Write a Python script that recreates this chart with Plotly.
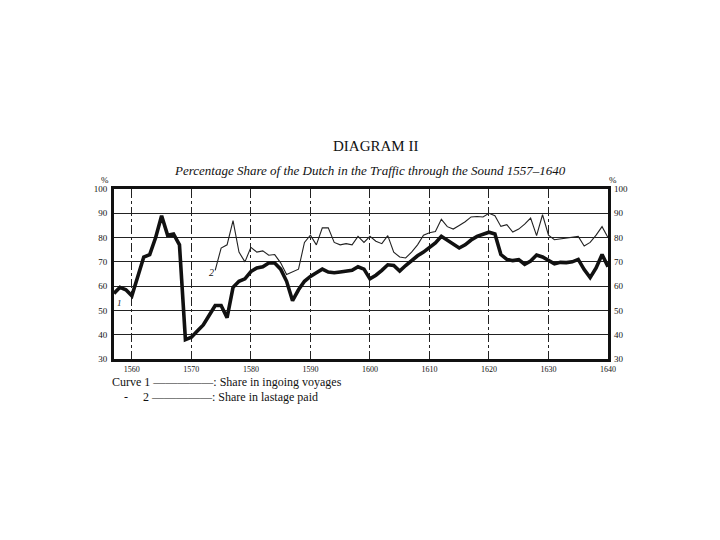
import plotly.graph_objects as go

# Curve 2 (thick): share in lastage paid
years_lastage = list(range(1557, 1641))
share_lastage = [57, 59.5, 58.5, 56, 64, 72, 73, 80, 89, 81,
                 81.5, 77, 38, 39, 41.5, 44, 48, 52, 52, 47,
                 59.5, 62, 63, 66, 67.5, 68, 69.5, 69.5, 67, 62,
                 54, 58.5, 62, 64, 65.5, 67, 65.8, 65.5, 65.8, 66.2,
                 66.5, 68, 67, 63, 64.5, 66.5, 68.8, 68.5, 66.2, 68.5,
                 70.5, 72.5, 74, 76, 77.8, 80.5, 79, 77.5, 75.7, 77,
                 79, 80.5, 81.5, 82.2, 81.5, 73, 71, 70.5, 70.9, 69,
                 70.3, 72.8, 72, 70.8, 69.2, 69.8, 69.7, 70, 71, 66.8,
                 63.5, 67.5, 73, 68]

# Curve 1 (thin): share in ingoing voyages
years_voyages = list(range(1574, 1641))
share_voyages = [66.5, 75.7, 77, 87, 74, 70, 76, 74, 74.5, 72.7,
                 73, 69.6, 64.8, 66, 67, 78, 81, 77, 84, 84,
                 78, 77, 77.5, 77, 80.5, 78, 80.5, 78.5, 77.5, 80.8,
                 74, 72, 71.6, 74, 77, 81, 82, 82.5, 87.5, 84.5,
                 83.5, 85, 86.5, 88.5, 88.7, 88.5, 90, 89, 84.6, 85.3,
                 82.3, 83.5, 85.5, 88, 80.8, 89.4, 81, 79.1, 79.5, 79.8,
                 80, 80.5, 76.5, 78, 81, 84.5, 80]

x_ticks = [1560, 1570, 1580, 1590, 1600, 1610, 1620, 1630, 1640]
y_ticks = [30, 40, 50, 60, 70, 80, 90, 100]

serif = "Liberation Serif, DejaVu Serif, serif"

fig = go.Figure()
fig.add_trace(go.Scatter(x=years_voyages, y=share_voyages, mode="lines",
                         line=dict(color="#222", width=1.1), showlegend=False))
fig.add_trace(go.Scatter(x=years_lastage, y=share_lastage, mode="lines",
                         line=dict(color="#111", width=3.6), showlegend=False))
# invisible trace to show right-hand axis
fig.add_trace(go.Scatter(x=[1600], y=[50], yaxis="y2", mode="markers",
                         marker=dict(opacity=0), showlegend=False, hoverinfo="skip"))

fig.update_layout(
    width=720, height=540,
    paper_bgcolor="white", plot_bgcolor="white",
    margin=dict(l=106, r=120, t=181, b=189),
    font=dict(family=serif, color="#111"),
    xaxis=dict(range=[1557, 1640], tickvals=x_ticks, ticktext=[str(v) for v in x_ticks],
               showgrid=True, gridcolor="#222", gridwidth=1, griddash="dashdot",
               showline=True, linecolor="#111", linewidth=3, mirror=True,
               ticks="", tickfont=dict(size=8, family=serif), zeroline=False,
               ticklabelstandoff=0),
    yaxis=dict(range=[30, 100], tickvals=y_ticks, ticktext=[str(v) for v in y_ticks],
               showgrid=True, gridcolor="#222", gridwidth=1,
               showline=True, linecolor="#111", linewidth=3, mirror=True,
               ticks="", tickfont=dict(size=9, family=serif), zeroline=False,
               ticklabelstandoff=2),
    yaxis2=dict(range=[30, 100], tickvals=y_ticks, ticktext=[str(v) for v in y_ticks],
                overlaying="y", side="right", showgrid=False, showline=False,
                ticks="", tickfont=dict(size=9, family=serif), zeroline=False,
                ticklabelstandoff=5),
    annotations=[
        dict(text="DIAGRAM II", x=0.505, y=127, xref="paper", yref="paper", showarrow=False,
             font=dict(size=15, family=serif)),
        dict(text="<i>Percentage Share of the Dutch in the Traffic through the Sound 1557–1640</i>",
             x=0.5, y=0, xref="paper", yref="paper", showarrow=False,
             font=dict(size=13, family=serif)),
        dict(text="Curve 1 —————: Share in ingoing voyages", x=0, y=0, xref="paper", yref="paper",
             xanchor="left", showarrow=False, font=dict(size=12, family=serif)),
        dict(text="-     2 —————: Share in lastage paid", x=0, y=0, xref="paper", yref="paper",
             xanchor="left", showarrow=False, font=dict(size=12, family=serif)),
        dict(text="%", x=0, y=0, xref="paper", yref="paper", showarrow=False,
             font=dict(size=9, family=serif)),
        dict(text="%", x=0, y=0, xref="paper", yref="paper", showarrow=False,
             font=dict(size=9, family=serif)),
        dict(text="<i>1</i>", x=1558, y=53, xref="x", yref="y", showarrow=False,
             font=dict(size=9, family=serif)),
        dict(text="<i>2</i>", x=1573.3, y=65.5, xref="x", yref="y", showarrow=False,
             font=dict(size=10, family=serif)),
    ],
)

# place header/footer annotations in pixel-equivalent paper coords
plot_w = 720 - 106 - 120
plot_h = 540 - 181 - 189
def px(xp):
    return (xp - 106) / plot_w
def py(yp):
    return (540 - 189 - yp) / plot_h

ann = list(fig.layout.annotations)
ann[0].update(x=px(367), y=py(128))
ann[1].update(x=px(362), y=py(153))
ann[2].update(x=px(102), y=py(383))
ann[3].update(x=px(114), y=py(398))
ann[4].update(x=px(91), y=py(165))
ann[5].update(x=px(611), y=py(165))
fig.layout.annotations = ann

fig.write_html("out.html")
